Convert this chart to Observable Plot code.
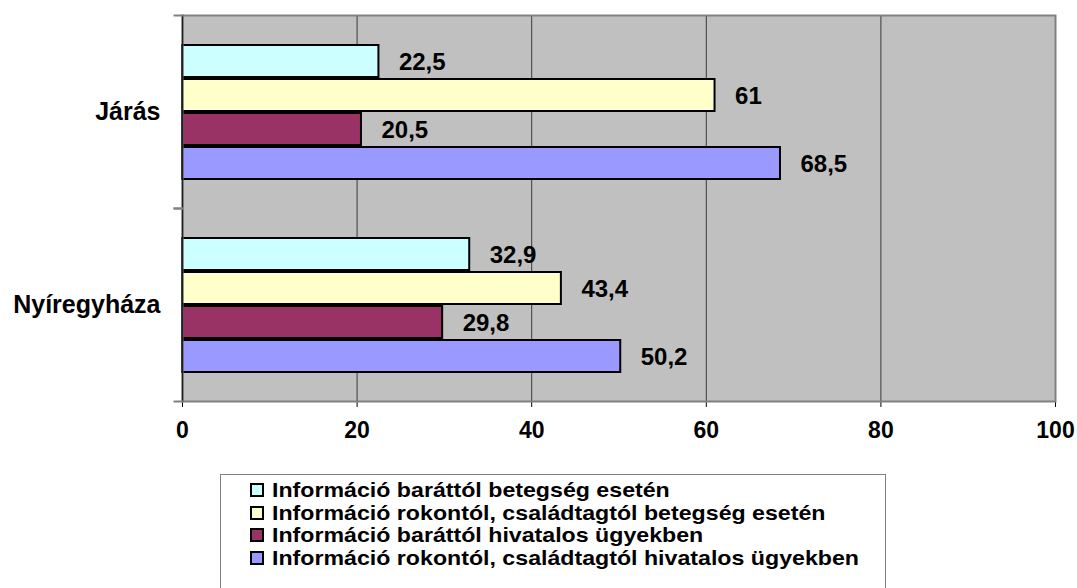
<!DOCTYPE html>
<html>
<head>
<meta charset="utf-8">
<script src="https://cdn.jsdelivr.net/npm/d3@7"></script>
<script src="https://cdn.jsdelivr.net/npm/@observablehq/plot@0.6"></script>
<style>
  html, body { margin: 0; padding: 0; background: #fff; }
  #wrap { position: relative; width: 1077px; height: 588px; overflow: hidden; font-family: "Liberation Sans", Arial, sans-serif; }
  #legend { position: absolute; left: 220px; top: 474px; width: 666px; height: 130px; border: 1px solid #808080; box-sizing: border-box; padding-top: 4px; }
  .row { position: relative; height: 22.6px; line-height: 22.6px; color: #000; padding-left: 30px; white-space: nowrap; }
  .txt { display: inline-block; font-size: 20.5px; font-weight: bold; transform: scaleX(1.13); transform-origin: 0 50%; margin-left: 21px; }
  .sw { position: absolute; left: 29px; top: 4px; width: 10px; height: 10px; border: 2px solid #000; }
</style>
</head>
<body>
<div id="wrap">
  <div id="chart"></div>
  <div id="legend"></div>
</div>
<script>
const groups = ["Járás", "Nyíregyháza"];
const seriesNames = [
  "Információ baráttól betegség esetén",
  "Információ rokontól, családtagtól betegség esetén",
  "Információ baráttól hivatalos ügyekben",
  "Információ rokontól, családtagtól hivatalos ügyekben"
];
const jarasValues = [22.5, 61, 20.5, 68.5];
const nyiregyhazaValues = [32.9, 43.4, 29.8, 50.2];
const seriesColors = ["#CCFFFF", "#FFFFCC", "#993366", "#9999FF"];
const xTicks = [0, 20, 40, 60, 80, 100];

const valuesByGroup = { "Járás": jarasValues, "Nyíregyháza": nyiregyhazaValues };
const data = [];
for (const g of groups) {
  seriesNames.forEach((s, i) => data.push({ group: g, series: s, value: valuesByGroup[g][i] }));
}
const fmt = v => String(v).replace(".", ",");

const W = 1077, H = 450, ML = 182, MR = 22, MT = 14, MB = 49;
const plotW = W - ML - MR;

const chart = Plot.plot({
  width: W, height: H,
  marginLeft: ML, marginRight: MR, marginTop: MT, marginBottom: MB,
  style: { fontFamily: "'Liberation Sans', Arial, sans-serif", fontWeight: "bold", fontSize: "23px", color: "#000", background: "#fff", overflow: "visible" },
  x: { domain: [0, 100], ticks: xTicks, tickSize: 6, tickPadding: 14, label: null, tickFormat: d => String(d) },
  y: { domain: seriesNames, paddingInner: 0.06, paddingOuter: 0.8, axis: null },
  fy: { domain: groups, padding: 0, label: null, axis: null },
  color: { domain: seriesNames, range: seriesColors },
  marks: [
    Plot.frame({ facet: "super", fill: "#C0C0C0" }),
    Plot.gridX(xTicks.slice(1, -1), { stroke: "#3a3a3a", strokeOpacity: 1, strokeWidth: 1 }),
    Plot.barX(data, { x: "value", y: "series", fy: "group", fill: "series", stroke: "#000", strokeWidth: 2 }),
    Plot.text(data, { x: "value", y: "series", fy: "group", text: d => fmt(d.value), dx: 20, dy: 1, textAnchor: "start", fontSize: 24, fontWeight: "bold", fill: "#000" }),
    Plot.axisFy({ anchor: "left", tickSize: 0, tickPadding: 22, fontSize: 25, fontWeight: "bold", label: null }),
    Plot.frame({ facet: "super", stroke: "#808080", strokeWidth: 2 }),
    Plot.frame({ facet: "super", anchor: "left", stroke: "#202020", strokeWidth: 1.5 }),
    Plot.frame({ anchor: "top", insetLeft: -8, insetRight: plotW, stroke: "#808080", strokeWidth: 2 }),
    Plot.frame({ anchor: "bottom", insetLeft: -8, insetRight: plotW, stroke: "#808080", strokeWidth: 2 })
  ]
});
document.getElementById("chart").appendChild(chart);

const legend = document.getElementById("legend");
seriesNames.forEach((s, i) => {
  const row = document.createElement("div");
  row.className = "row";
  const sw = document.createElement("span");
  sw.className = "sw";
  sw.style.background = seriesColors[i];
  row.appendChild(sw);
  const t = document.createElement("span");
  t.className = "txt";
  t.textContent = s;
  row.appendChild(t);
  legend.appendChild(row);
});
</script>
</body>
</html>
